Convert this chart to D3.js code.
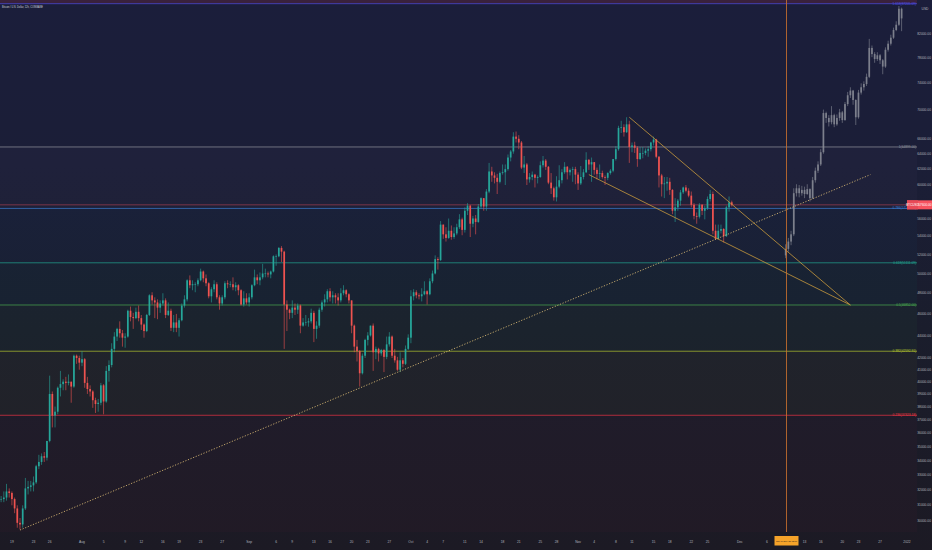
<!DOCTYPE html>
<html><head><meta charset="utf-8">
<script src="https://cdn.jsdelivr.net/npm/d3@7"></script>
<style>html,body{margin:0;padding:0;background:#1b1d30;overflow:hidden}svg{display:block}</style>
</head><body>
<svg id="c" width="932" height="550"></svg>
<script>
// ---------------- DATA ----------------
const title = "Bitcoin / U.S. Dollar, 12h, COINBASE";
const UNIT = 1000; // prices below are in thousands of USD
const firstBarTime = "2021-07-16T12:00:00Z"; // 12h bars
const firstOpen = 31.9;
const close12h = [31.4,
31.4,31.5, 31.9,31.8, 31.4,30.8, 29.9,29.8, 30.8,32.1, 32.2,32.3, 32.5,33.6, 33.9,34.3, 34.2,35.4, 39.0,37.3, 37.6,39.5, 39.8,40.0, 39.9,40.0, 39.6,42.2, 42.0,41.6,
41.9,39.9, 39.4,39.2, 38.5,38.2, 38.3,39.7, 38.4,40.9, 41.4,42.8, 43.9,44.6, 44.2,43.8, 43.9,46.3, 45.7,45.6, 46.2,45.6, 45.0,44.4, 45.9,47.8, 47.3,47.1, 46.6,47.0, 47.3,45.9, 46.3,44.7, 45.2,44.7, 45.4,46.8, 47.4,49.3, 48.8,48.9, 48.9,49.3, 50.2,49.5, 49.0,47.7, 48.4,48.9, 47.6,47.0, 47.6,49.0, 48.9,48.9, 48.6,48.8, 48.3,46.9, 47.5,47.1,
47.6,48.8, 49.6,49.3, 49.6,50.0, 50.0,49.9, 50.2,51.8, 51.8,52.7, 52.3,46.9, 46.4,46.1, 46.6,46.4, 46.8,44.9, 45.2,45.2, 45.3,46.1, 44.6,44.9, 46.4,47.1, 47.4,48.2, 47.6,47.8, 47.6,47.3, 48.0,48.3, 47.9,47.3, 44.9,43.0, 42.6,40.7, 42.2,43.6, 44.0,44.9, 42.5,42.8, 42.4,42.7, 42.1,43.2, 43.9,42.2, 41.8,41.0, 41.8,41.5, 42.8,43.8,
47.7,48.1, 47.8,47.7, 47.9,48.2, 47.9,49.2, 50.0,51.5, 51.4,55.3, 54.2,53.8, 54.6,53.9, 54.3,55.0, 55.9,54.7, 56.9,57.5, 55.4,56.0, 55.6,57.4, 58.4,57.4, 59.2,61.7, 61.2,60.9, 60.4,61.5, 61.6,62.0, 63.5,64.3, 66.3,66.0, 65.5,62.2, 62.6,60.7, 61.0,61.3, 60.9,61.0, 62.5,63.1, 62.3,60.3, 59.6,58.5, 59.8,60.6, 61.6,62.3, 61.6,61.9, 62.0,61.3,
60.2,61.0, 61.6,63.2, 62.6,62.9, 61.9,61.4, 61.5,61.0, 60.9,61.5, 61.8,63.3, 64.6,67.5, 67.6,66.9, 68.0,64.9, 65.1,64.8, 63.3,64.1, 64.1,64.4, 64.6,65.5, 65.9,63.6, 61.2,60.1, 60.2,60.4, 59.4,56.9, 57.3,58.1, 59.1,59.7, 59.3,58.7, 57.6,56.3, 56.2,57.6, 56.9,57.2, 58.3,58.9, 54.6,53.7, 54.6,54.8, 54.0,57.3, 57.9,57.6];
const high12h = [32.0,
31.6,31.9, 32.4,32.1, 31.9,31.5, 31.0,30.2, 31.0,32.8, 32.6,32.6, 32.9,33.7, 34.4,34.5, 34.6,35.4, 40.5,39.2, 38.0,39.6, 40.9,40.2, 40.4,40.6, 40.0,42.3, 42.3,42.2,
42.6,42.0, 40.4,39.7, 39.3,38.7, 38.6,39.9, 39.8,41.3, 41.8,43.3, 44.3,44.7, 45.3,44.5, 44.2,46.4, 46.7,46.1, 46.6,46.8, 45.9,45.1, 46.0,47.9, 48.1,47.6, 47.4,47.3, 48.0,47.5, 47.1,46.5, 45.9,46.0, 45.6,47.0, 47.8,49.4, 49.8,49.3, 49.1,49.5, 50.5,50.3, 49.9,49.1, 48.6,49.3, 49.1,47.8, 47.8,49.2, 49.3,49.2, 49.6,49.1, 48.9,48.4, 48.2,48.0,
48.0,48.9, 50.4,49.9, 50.1,51.0, 50.5,50.2, 50.3,51.9, 52.0,52.8, 52.9,52.4, 47.3,46.5, 47.3,47.0, 47.0,46.9, 45.6,45.9, 45.6,46.5, 46.3,45.3, 46.6,47.3, 47.9,48.4, 48.5,48.2, 48.0,48.0, 48.5,48.8, 48.4,48.0, 47.3,45.0, 43.6,42.7, 42.4,43.7, 44.3,44.9, 45.1,43.0, 42.9,42.8, 42.8,43.9, 44.3,44.0, 42.8,42.1, 42.5,42.0, 43.1,44.1,
48.3,48.4, 48.3,48.0, 48.5,49.2, 48.3,49.5, 50.3,51.9, 51.7,55.7, 55.3,55.0, 56.0,55.2, 55.0,55.4, 56.5,56.1, 57.3,57.8, 57.6,56.3, 56.4,57.7, 58.5,58.4, 59.5,62.8, 62.3,61.6, 61.4,61.7, 62.6,62.6, 63.9,64.5, 66.9,67.0, 66.5,65.7, 63.7,62.8, 61.5,61.7, 61.4,61.2, 63.0,63.7, 63.3,62.4, 61.5,59.8, 61.1,62.5, 62.0,62.9, 62.4,62.1, 62.3,62.3,
61.6,62.4, 62.0,64.2, 63.3,63.5, 62.9,62.2, 62.6,61.8, 61.2,61.6, 62.0,63.3, 65.0,67.8, 68.5,68.0, 69.0,68.5, 65.5,65.6, 65.0,64.9, 64.9,64.7, 65.0,65.6, 66.3,66.0, 63.7,61.4, 61.0,61.0, 60.9,59.5, 58.4,58.3, 59.4,59.8, 60.0,59.6, 59.2,57.8, 56.7,57.8, 57.7,57.5, 58.6,59.4, 59.2,55.3, 55.3,55.3, 54.9,57.5, 58.6,58.1];
const low12h = [31.1,
31.2,31.2, 31.3,31.5, 31.0,30.5, 29.6,29.5, 29.6,30.7, 31.7,31.9, 31.9,32.4, 33.4,33.7, 33.9,34.0, 35.3,36.4, 36.4,37.4, 38.8,39.3, 39.3,39.7, 38.3,39.5, 41.5,41.0,
41.3,39.5, 39.0,38.8, 37.9,37.5, 37.6,38.1, 37.4,38.3, 40.0,41.2, 42.5,43.5, 43.8,43.0, 42.9,43.8, 45.3,44.6, 45.5,45.3, 44.5,43.8, 44.3,45.8, 46.9,45.6, 45.5,46.1, 46.8,45.6, 45.8,44.4, 44.3,44.3, 43.9,45.3, 46.6,47.2, 48.5,48.3, 48.1,48.7, 49.2,49.1, 48.7,47.5, 47.1,48.1, 47.4,46.4, 46.8,47.4, 48.5,48.6, 48.3,48.2, 47.8,46.8, 46.7,46.9,
46.7,47.4, 48.7,48.9, 48.8,49.4, 49.6,49.6, 49.5,50.1, 50.8,51.7, 51.2,42.8, 44.4,45.5, 45.6,45.9, 46.0,44.2, 44.8,44.9, 44.8,45.1, 43.4,43.7, 44.7,46.2, 46.7,47.1, 47.2,47.0, 47.0,46.8, 47.1,47.8, 47.6,47.0, 44.2,42.5, 41.7,39.6, 40.6,42.0, 43.1,43.9, 40.9,41.9, 41.7,42.2, 40.8,41.9, 43.0,42.0, 41.6,40.9, 40.8,41.2, 41.4,42.7,
43.3,47.3, 47.5,47.4, 47.2,47.8, 46.9,47.8, 49.0,49.9, 50.4,51.3, 53.7,53.4, 53.7,53.6, 53.7,54.1, 54.8,54.1, 54.4,56.4, 53.9,55.0, 54.2,55.5, 57.1,56.9, 56.9,59.0, 60.4,60.2, 58.9,60.2, 61.3,60.0, 61.8,63.0, 64.0,65.5, 64.6,62.0, 61.5,60.0, 60.3,60.6, 59.7,60.2, 60.9,62.2, 61.9,60.1, 58.9,58.1, 58.0,59.6, 60.2,61.4, 60.7,61.2, 60.4,60.1,
59.4,60.0, 60.7,61.5, 61.9,60.4, 61.3,60.7, 60.8,60.8, 60.0,60.6, 61.3,61.6, 63.1,64.4, 66.8,66.3, 66.8,62.8, 64.2,64.1, 62.3,63.2, 63.4,63.8, 63.6,64.3, 65.1,63.4, 59.7,58.6, 58.4,59.3, 58.8,56.5, 55.6,56.9, 57.5,58.9, 59.1,58.5, 57.3,55.9, 55.4,56.0, 56.4,55.9, 57.0,58.0, 54.2,53.6, 53.9,54.3, 53.3,53.9, 56.8,57.4];

// projected "bars pattern" (gray) starting at the vertical marker
const projStart = "2021-12-09T12:00:00Z";
const projOpen = 51.9;
const projClose = [52.6,53.4,54.2,59.0,59.6,59.0,59.4,58.9,59.5,58.4,60.6,61.8,62.6,64.2,69.6,68.9,68.3,69.3,68.0,68.9,69.7,68.6,70.9,72.2,72.9,71.5,69.0,72.6,73.4,73.9,75.0,79.6,78.6,77.8,78.4,77.6,76.6,79.3,80.3,81.3,82.6,83.5,86.3,84.6];
const projHigh  = [53.1,53.8,54.6,59.6,60.1,60.0,59.9,59.8,60.1,59.6,61.0,62.2,63.0,64.6,70.1,69.8,69.3,70.6,69.5,69.4,70.2,69.9,71.2,72.7,73.4,73.0,71.6,73.0,74.0,74.3,75.5,81.1,80.0,78.9,78.9,78.6,77.8,79.7,80.8,81.8,83.0,84.1,86.8,86.5];
const projLow   = [51.6,52.3,53.0,54.0,58.6,58.5,58.7,58.4,58.8,58.0,58.3,60.3,61.5,62.4,64.0,68.2,67.7,68.0,67.6,67.8,68.5,68.2,68.5,70.6,71.8,70.8,67.9,68.8,72.3,72.9,73.6,74.8,78.1,77.2,77.5,77.0,75.4,76.4,79.0,80.0,81.1,82.4,83.3,82.4];

// Fibonacci retracement (drawn from 28805 to 64899)
const fibFrom = 28805, fibTo = 64899;
const fibRatios = [0.236, 0.382, 0.5, 0.618, 0.786, 1, 1.618];
const fibColors = ["#f23645", "#b9c92f", "#4caf50", "#22ab94", "#3d7fd6", "#9598a1", "#4f4fe8"];
const fibFills  = ["rgba(242,54,69,0.025)", "rgba(200,215,60,0.04)", "rgba(76,175,80,0.045)", "rgba(8,153,129,0.045)",
                   "rgba(0,150,212,0.035)", "rgba(140,140,160,0.035)", "rgba(41,60,255,0.0)", "rgba(242,54,69,0.14)"];

// trend lines  [time, price(k)]
const supportLine = [["2021-07-20T12:00:00Z", 29.46], ["2021-12-25T05:00:00Z", 61.3]];
const wedgeUpper  = [["2021-11-10T12:00:00Z", 69.0], ["2021-12-21T12:00:00Z", 46.85]];
const wedgeLower  = [["2021-11-03T00:00:00Z", 61.3], ["2021-12-21T12:00:00Z", 46.85]];
const markerTime = "2021-12-09T12:00:00Z";
const markerLabel = "Thu 09 Dec '21 12:00";

// axis ticks
const priceTicks = [30000,31000,32000,33000,34000,35000,36000,37000,38000,39000,40000,41000,42000,
                    44000,46000,48000,50000,52000,54000,56000,58000,60000,62000,64000,66000,70000,74000,78000,82000];
const timeTickDates = ["2021-07-19","2021-07-23","2021-07-26","2021-08-01","2021-08-05","2021-08-09","2021-08-12","2021-08-16","2021-08-19","2021-08-23","2021-08-27",
  "2021-09-01","2021-09-06","2021-09-09","2021-09-13","2021-09-16","2021-09-20","2021-09-23","2021-09-27",
  "2021-10-01","2021-10-04","2021-10-07","2021-10-11","2021-10-14","2021-10-18","2021-10-21","2021-10-25","2021-10-28",
  "2021-11-01","2021-11-04","2021-11-08","2021-11-11","2021-11-15","2021-11-18","2021-11-22","2021-11-25",
  "2021-12-01","2021-12-06","2021-12-13","2021-12-16","2021-12-20","2021-12-23","2021-12-27","2022-01-01"];
const timeTickLabels = ["19","23","26","Aug","5","9","12","16","19","23","27",
  "Sep","6","9","13","16","20","23","27",
  "Oct","4","7","11","14","18","21","25","28",
  "Nov","4","8","11","15","18","22","25",
  "Dec","6","13","16","20","23","27","2022"];

// ---------------- LAYOUT ----------------
const W = 932, H = 550, plotR = 918, plotB = 532;
const svg = d3.select("#c");
const x = d3.scaleUtc().domain([new Date("2021-08-01T00:00:00Z"), new Date("2022-01-01T00:00:00Z")]).range([82, 907]);
const y = d3.scaleLog().domain([29340, 87870]).range([plotB, 0]);
const FONT = "'Liberation Sans', Arial, sans-serif";

const defs = svg.append("defs");
const g = defs.append("linearGradient").attr("id","bg").attr("x1",0).attr("y1",0).attr("x2",0).attr("y2",1);
g.append("stop").attr("offset","0").attr("stop-color","#1b1e3b");
g.append("stop").attr("offset","0.3").attr("stop-color","#1b1e37");
g.append("stop").attr("offset","0.6").attr("stop-color","#1a1d2c");
g.append("stop").attr("offset","1").attr("stop-color","#1c1a24");
defs.append("clipPath").attr("id","plot").append("rect").attr("x",0).attr("y",0).attr("width",plotR).attr("height",plotB);

svg.append("rect").attr("width",W).attr("height",H).attr("fill","url(#bg)");

const plot = svg.append("g").attr("clip-path","url(#plot)");

// fib bands and lines
const fibPrices = fibRatios.map(r => fibFrom + r*(fibTo - fibFrom));
const bandEdges = [fibFrom].concat(fibPrices).concat([fibFrom + 2.618*(fibTo-fibFrom)]);
for (let i = 0; i < bandEdges.length-1; i++) {
  const y0 = y(bandEdges[i]), y1 = y(bandEdges[i+1]);
  plot.append("rect").attr("x",0).attr("width",917).attr("y",y1).attr("height",y0-y1).attr("fill",fibFills[i]);
}
fibPrices.forEach((p,i) => {
  plot.append("line").attr("x1",0).attr("x2",917).attr("y1",y(p)).attr("y2",y(p))
    .attr("stroke",fibColors[i]).attr("stroke-width",0.8).attr("stroke-opacity",0.85);
});

// last price line
const lastClose = close12h[close12h.length-1];
plot.append("line").attr("x1",0).attr("x2",917).attr("y1",y(lastClose*UNIT)).attr("y2",y(lastClose*UNIT))
  .attr("stroke","#f7525f").attr("stroke-width",0.6).attr("stroke-opacity",0.7);

// candles
const H12 = 12*3600*1000;
const t0 = Date.parse(firstBarTime);
const bars = close12h.map((c,i) => ({t:new Date(t0+i*H12), o: i ? close12h[i-1] : firstOpen, c, h: high12h[i], l: low12h[i]}));
const bw = 1.7;
const cg = plot.append("g");
bars.forEach(b => {
  const col = b.c >= b.o ? "#26a69a" : "#ef5350";
  const cx = x(b.t);
  cg.append("line").attr("x1",cx).attr("x2",cx)
    .attr("y1",y(Math.max(b.h,b.o,b.c)*UNIT)).attr("y2",y(Math.min(b.l,b.o,b.c)*UNIT))
    .attr("stroke",col).attr("stroke-width",0.6);
  const yt = y(Math.max(b.o,b.c)*UNIT), yb = y(Math.min(b.o,b.c)*UNIT);
  cg.append("rect").attr("x",cx-bw/2).attr("width",bw).attr("y",yt).attr("height",Math.max(0.6,yb-yt)).attr("fill",col);
});

// projection bars
const tp = Date.parse(projStart);
const pg = plot.append("g").attr("opacity",0.85);
projClose.forEach((c,i) => {
  const o = i ? projClose[i-1] : projOpen;
  const cx = x(new Date(tp + i*H12));
  pg.append("line").attr("x1",cx).attr("x2",cx)
    .attr("y1",y(Math.max(projHigh[i],o,c)*UNIT)).attr("y2",y(Math.min(projLow[i],o,c)*UNIT))
    .attr("stroke","#9a9da6").attr("stroke-width",0.6);
  const yt = y(Math.max(o,c)*UNIT), yb = y(Math.min(o,c)*UNIT);
  pg.append("rect").attr("x",cx-bw/2).attr("width",bw).attr("y",yt).attr("height",Math.max(0.6,yb-yt))
    .attr("fill","#8e919b");
});

// trend lines
function seg(pts, color, w, dash) {
  const l = plot.append("line")
    .attr("x1",x(new Date(pts[0][0]))).attr("y1",y(pts[0][1]*UNIT))
    .attr("x2",x(new Date(pts[1][0]))).attr("y2",y(pts[1][1]*UNIT))
    .attr("stroke",color).attr("stroke-width",w);
  if (dash) l.attr("stroke-dasharray",dash);
}
seg(supportLine, "#e8c77a", 0.8, "1.2,1.6");
seg(wedgeUpper, "#c99a3e", 0.8, null);
seg(wedgeLower, "#c99a3e", 0.8, null);

// vertical marker
const mx = Math.round(x(new Date(markerTime))) + 0.5;
svg.append("line").attr("x1",mx).attr("x2",mx).attr("y1",0).attr("y2",plotB)
  .attr("stroke","#c8702e").attr("stroke-width",1).attr("stroke-opacity",0.85);

// fib labels
fibPrices.forEach((p,i) => {
  svg.append("text").attr("x",916).attr("y",y(p)+1).attr("text-anchor","end")
    .attr("font-family",FONT).attr("font-size",3.2).attr("fill",fibColors[i])
    .text(`${fibRatios[i]}(${d3.format(".2f")(p)})`);
});

// price axis labels
priceTicks.forEach(p => {
  const yy = y(p);
  if (Math.abs(yy - y(lastClose*UNIT)) < 6) return;
  svg.append("text").attr("x",931).attr("y",yy+1.1).attr("text-anchor","end")
    .attr("font-family",FONT).attr("font-size",3.3).attr("fill","#b2b5be")
    .text(d3.format(".2f")(p));
});
svg.append("text").attr("x",925).attr("y",10).attr("text-anchor","middle")
  .attr("font-family",FONT).attr("font-size",3.3).attr("fill","#b2b5be").text("USD");

// last price label
const ly = y(lastClose*UNIT);
svg.append("rect").attr("x",907).attr("y",ly-4.5).attr("width",25).attr("height",9).attr("fill","#f7525f");
svg.append("rect").attr("x",907).attr("y",ly-4.5).attr("width",11).attr("height",9).attr("fill","#e84a57");
svg.append("text").attr("x",912.5).attr("y",ly+1.2).attr("text-anchor","middle")
  .attr("font-family",FONT).attr("font-size",3.2).attr("fill","#ffffff").text("BTCUSD");
svg.append("text").attr("x",925).attr("y",ly+1.2).attr("text-anchor","middle")
  .attr("font-family",FONT).attr("font-size",3.2).attr("fill","#ffffff").text(d3.format(".2f")(lastClose*UNIT));

// time axis labels
timeTickDates.forEach((d,i) => {
  svg.append("text").attr("x",x(new Date(d+"T00:00:00Z"))).attr("y",542.5).attr("text-anchor","middle")
    .attr("font-family",FONT).attr("font-size",3.3).attr("fill","#b2b5be").text(timeTickLabels[i]);
});
svg.append("rect").attr("x",mx-12).attr("y",536).attr("width",24).attr("height",9.5).attr("fill","#f5a32a");
svg.append("text").attr("x",mx).attr("y",542.1).attr("text-anchor","middle").attr("textLength",21).attr("lengthAdjust","spacingAndGlyphs")
  .attr("font-family",FONT).attr("font-size",2.5).attr("fill","#1a1a1a").text(markerLabel);

// title
svg.append("text").attr("x",2).attr("y",8).attr("textLength",41).attr("lengthAdjust","spacingAndGlyphs")
  .attr("font-family",FONT).attr("font-size",3.2).attr("fill","#d1d4dc").text(title);
</script>
</body></html>
